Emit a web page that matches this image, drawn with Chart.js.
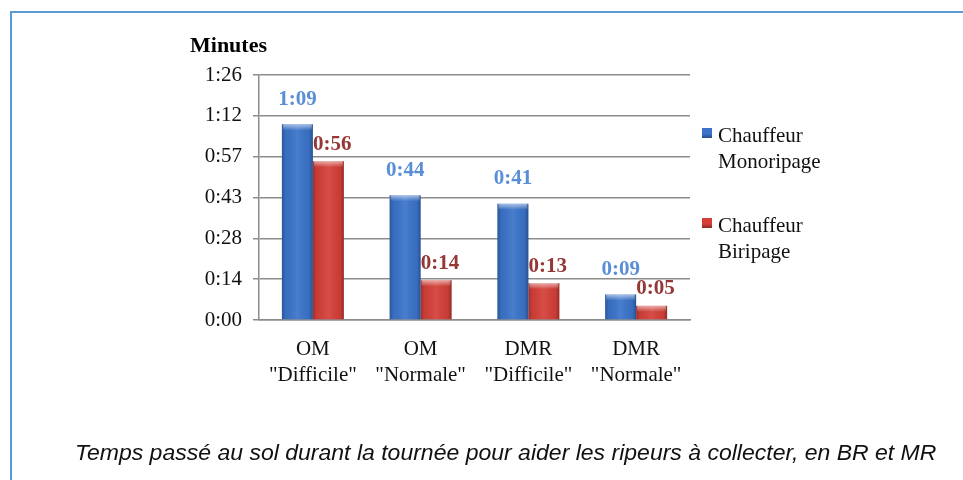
<!DOCTYPE html>
<html lang="fr">
<head>
<meta charset="utf-8">
<script src="https://cdn.jsdelivr.net/npm/chart.js@4.4.0/dist/chart.umd.min.js"></script>
<style>
  body { margin: 0; background: #fff; }
  #wrap { position: relative; width: 963px; height: 480px; overflow: hidden; }
  #frame { position: absolute; left: 10px; top: 11px; right: -10px; bottom: -10px;
           border-top: 2px solid #5b9bd5; border-left: 2px solid #5b9bd5; }
  canvas { position: absolute; left: 0; top: 0; }
  #unit { position: absolute; left: 190px; top: 32px; font: bold 22px "Liberation Serif"; color: #000; }
  #legend { position: absolute; left: 700px; top: 122px; font: 21px "Liberation Serif"; color: #111; }
  .item { position: relative; padding-left: 18px; line-height: 26px; margin-bottom: 38px; }
  .box { position: absolute; left: 2px; top: 6px; width: 10px; height: 10px; }
  #caption { position: absolute; left: 75px; top: 440px; line-height: 26px; white-space: nowrap;
             font: italic 22px "Liberation Sans"; color: #111; transform-origin: left center; }
</style>
</head>
<body>
<div id="wrap">
  <div id="frame"></div>
  <canvas id="chart" width="963" height="480"></canvas>
  <div id="unit">Minutes</div>
  <div id="legend"></div>
  <div id="caption">Temps passé au sol durant la tournée pour aider les ripeurs à collecter, en BR et MR</div>
</div>
<script>
// catégories (deux lignes chacune)
const categories = [['OM', '"Difficile"'], ['OM', '"Normale"'], ['DMR', '"Difficile"'], ['DMR', '"Normale"']];
const seriesNames = [['Chauffeur', 'Monoripage'], ['Chauffeur', 'Biripage']];
// durées en minutes
const monoripage = [69, 44, 41, 9];
const biripage = [56, 14, 13, 5];
// axe : pas de 0,01 jour (14,4 min)
const tickStep = 14.4;
const yMax = 86.4;

const barColors = ['#3a73c9', '#d43f38'];
const labelColors = ['#5a8fd6', '#953735'];
const labelLift = [25, 17];

// minutes -> h:mm (secondes tronquées comme dans Excel)
function hmm(mins) {
  const m = Math.floor(mins + 1e-6);
  return Math.floor(m / 60) + ':' + String(m % 60).padStart(2, '0');
}

// relief des barres
const barShade = {
  id: 'barShade',
  afterDatasetDraw(chart, args) {
    const ctx = chart.ctx;
    args.meta.data.forEach(bar => {
      const { x, y, width, base } = bar.getProps(['x', 'y', 'width', 'base'], true);
      const l = x - width / 2, h = base - y;
      ctx.save();
      const g = ctx.createLinearGradient(l, 0, l + width, 0);
      g.addColorStop(0, 'rgba(0,0,0,0.25)');
      g.addColorStop(0.12, 'rgba(0,0,0,0.05)');
      g.addColorStop(0.5, 'rgba(255,255,255,0.08)');
      g.addColorStop(0.88, 'rgba(0,0,0,0.05)');
      g.addColorStop(1, 'rgba(0,0,0,0.3)');
      ctx.fillStyle = g;
      ctx.fillRect(l, y, width, h);
      const bev = Math.min(6, h);
      const t = ctx.createLinearGradient(0, y, 0, y + bev);
      t.addColorStop(0, 'rgba(255,255,255,0.55)');
      t.addColorStop(1, 'rgba(255,255,255,0)');
      ctx.fillStyle = t;
      ctx.fillRect(l + 1, y, width - 2, bev);
      ctx.restore();
    });
  }
};

// étiquettes de valeur au-dessus des barres
const valueLabels = {
  id: 'valueLabels',
  afterDatasetsDraw(chart) {
    const ctx = chart.ctx;
    ctx.save();
    ctx.font = 'bold 21px "Liberation Serif"';
    ctx.textAlign = 'center';
    ctx.textBaseline = 'middle';
    chart.data.datasets.forEach((ds, i) => {
      ctx.fillStyle = labelColors[i];
      chart.getDatasetMeta(i).data.forEach((bar, j) => {
        ctx.fillText(hmm(ds.data[j]), bar.x + i * 4, bar.y - labelLift[i]);
      });
    });
    ctx.restore();
  }
};

const grey = '#8c8c8c';
const axisFont = { family: 'Liberation Serif', size: 21, lineHeight: 1.24 };

const chart = new Chart(document.getElementById('chart'), {
  type: 'bar',
  data: {
    labels: categories,
    datasets: [
      { label: seriesNames[0].join(' '), data: monoripage, backgroundColor: barColors[0],
        categoryPercentage: 0.575, barPercentage: 1.0 },
      { label: seriesNames[1].join(' '), data: biripage, backgroundColor: barColors[1],
        categoryPercentage: 0.575, barPercentage: 1.0 }
    ]
  },
  options: {
    responsive: false,
    animation: false,
    layout: { padding: { left: 190, right: 273, top: 75, bottom: 90 } },
    plugins: { legend: { display: false }, tooltip: { enabled: false } },
    scales: {
      x: {
        grid: { display: false },
        border: { color: grey, width: 1.5 },
        ticks: { font: axisFont, color: '#111', padding: 8, maxRotation: 0 },
        afterFit: s => { s.height = 70; }
      },
      y: {
        min: 0,
        max: yMax,
        ticks: { stepSize: tickStep, callback: v => hmm(v), font: axisFont, color: '#111', padding: 11 },
        grid: { color: grey, lineWidth: 1.5, tickLength: 6 },
        border: { color: grey, width: 1.5 },
        afterFit: s => { s.width = 69; }
      }
    }
  },
  plugins: [barShade, valueLabels]
});

// légende
const legend = document.getElementById('legend');
chart.data.datasets.forEach((ds, i) => {
  const item = document.createElement('div');
  item.className = 'item';
  const box = document.createElement('span');
  box.className = 'box';
  box.style.background = 'linear-gradient(' + barColors[i] + ' 0%, ' + barColors[i] + ' 60%, rgba(0,0,0,0.35) 100%)';
  box.style.backgroundColor = barColors[i];
  item.appendChild(box);
  item.appendChild(document.createTextNode(seriesNames[i][0]));
  item.appendChild(document.createElement('br'));
  item.appendChild(document.createTextNode(seriesNames[i][1]));
  legend.appendChild(item);
});

// largeur de la légende de figure
const caption = document.getElementById('caption');
caption.style.transform = 'scaleX(' + (861 / caption.offsetWidth) + ')';
</script>
</body>
</html>
